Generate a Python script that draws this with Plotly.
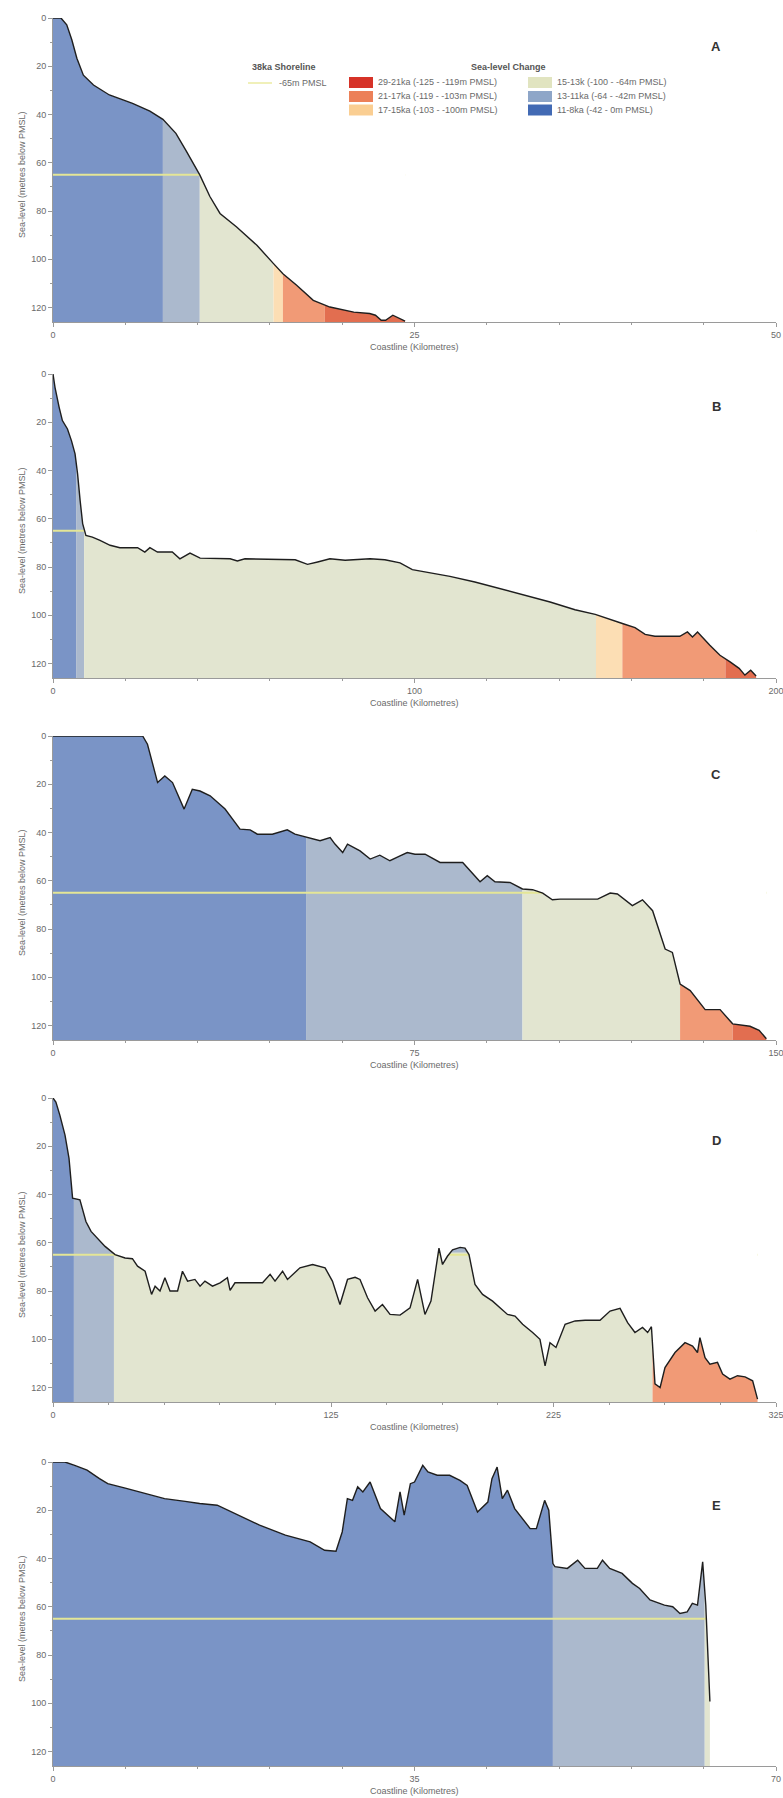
import numpy as np
import plotly.graph_objects as go

# ---------------- data ----------------
# Panel A
a_km = [0, 0.55, 0.95, 1.3, 1.65, 2.1, 2.8, 3.9, 5.5, 6.7, 7.6, 8.5, 9.2, 10.15, 10.85, 11.55,
        12.7, 14.1, 15.25, 15.9, 16.85, 18.0, 19.15, 20.8, 21.9, 22.3, 22.7, 23.0, 23.5, 24.0, 24.35]
a_depth = [0, 0, 2.8, 9, 16.7, 23.7, 27.8, 31.9, 35.4, 38.6, 42, 47.8, 55, 65, 74, 81,
           86.6, 94.2, 101.8, 106, 110.8, 117, 119.8, 121.9, 122.5, 123.2, 125.3, 125.3, 123.2, 124.6, 125.6]
a_band_edges = [0, 7.6, 10.15, 15.25, 15.9, 18.8, 24.35]
a_band_ages = ["11-8", "13-11", "15-13", "17-15", "21-17", "29-21"]

# Panel B
b_km = [0, 0.55, 1.7, 2.6, 4.0, 5.1, 6.1, 6.8, 7.5, 8.2, 9.1, 10.9, 13, 15.8, 18.5, 23.4, 25.4, 26.8,
        28.9, 33, 35.1, 37.9, 40.7, 49, 51, 53.1, 67, 70.4, 73.2, 76.6, 80.8, 87.7, 91.8, 96, 99.4,
        103, 109.8, 116.7, 123.7, 130.6, 137.5, 144.4, 150, 157.5, 161, 163.8, 166.5, 173.4, 175.5,
        176.9, 178.3, 181.7, 184.5, 187.3, 189.8, 191.4, 193, 194.5]
b_depth = [0, 5.5, 13.8, 19.3, 22.8, 27.6, 33.1, 41.4, 52.4, 62, 66.9, 67.6, 69, 71, 72, 72, 73.8, 72,
           73.8, 73.8, 76.6, 74.2, 76.3, 76.6, 77.5, 76.6, 77, 78.9, 77.9, 76.6, 77.2, 76.6, 77, 78.3, 81.1,
           82, 83.9, 86.2, 89, 91.7, 94.5, 97.7, 99.6, 103.4, 105.1, 107.9, 108.7, 108.7, 106.9,
           109, 106.9, 112.4, 116.6, 119.3, 122, 124.8, 122.8, 125.2]
b_band_edges = [0, 6.4, 8.6, 150.2, 157.5, 186, 194.5]
b_band_ages = ["11-8", "13-11", "15-13", "17-15", "21-17", "29-21"]

# Panel C
c_km = [0, 18.6, 19.6, 20.6, 21.7, 23.2, 24.8, 27.2, 28.9, 30.5, 32.6, 35.7, 38.8, 40.9, 42.4, 45.5,
        48.6, 50.2, 52.8, 55.4, 57.5, 58.5, 60.1, 61.1, 63.7, 65.8, 67.8, 69.9, 72, 73.5, 75.1, 77.2,
        80.3, 85, 88.6, 90.1, 91.7, 94.8, 97.4, 99.5, 101.6, 103.6, 105.2, 113, 115.6, 117.1, 120.2,
        122.3, 124.4, 127, 128.5, 130.1, 132.2, 135.3, 138.4, 141, 144.6, 146.5, 148]
c_depth = [0, 0, 3.4, 11, 19.3, 16.6, 19.3, 30.3, 22.1, 22.8, 24.8, 30.3, 38.6, 38.9, 40.7, 40.7,
           38.9, 40.7, 42.1, 43.4, 42.1, 44.8, 48.3, 44.8, 47.6, 51, 49.4, 51.7, 49.7, 48.3, 49, 49,
           52.4, 52.4, 60.4, 57.9, 60.4, 60.7, 63.4, 63.7, 65.1, 67.9, 67.6, 67.6, 65.1, 65.5, 70.3,
           67.9, 72.4, 88.3, 89.7, 102.8, 105.5, 113.4, 113.4, 119.3, 120.3, 122, 125.5]
c_band_edges = [0, 52.5, 97.4, 130.1, 141, 148]
c_band_ages = ["11-8", "13-11", "15-13", "21-17", "29-21"]

# Panel D
d_km = [0, 1.3, 3.1, 5.4, 7.2, 8.8, 12.1, 14.8, 17.1, 20, 23.4, 27.9, 32.4, 35.7, 38, 41.4, 44.3,
        45.9, 48.1, 50.3, 52.6, 56, 58.2, 60.5, 63.8, 66.1, 68.3, 71.7, 75.1, 78.4, 79.6, 81.8, 86.3,
        94.2, 97.6, 99.8, 103.2, 105.4, 111, 116.7, 122.3, 125.6, 129, 132.4, 135.8, 138, 141.4,
        144.8, 148.1, 151.5, 156, 160.5, 163.9, 167.2, 169.9, 173.5, 175.1, 177.3, 179.6, 183,
        185.2, 187, 189.7, 193.1, 197.6, 201, 204.3, 207.7, 211.1, 215.6, 218.9, 221.2, 223.4,
        226.1, 230.2, 234.7, 239.2, 245.9, 250.4, 254.9, 258.3, 261.6, 265, 267.3, 269, 270.6,
        272.9, 275.1, 279.6, 284.1, 287.5, 289.7, 290.8, 293.1, 295.3, 298.7, 301, 304.3, 307.7,
        311.1, 314.5, 316.7]
d_depth = [0, 1.7, 7.2, 15.4, 25, 41.5, 42.2, 51.2, 55.3, 58, 61.5, 64.9, 66.3, 66.6, 69.7, 71.8, 81.4,
           78, 80, 74.5, 80, 80, 71.8, 75.9, 75.2, 78, 75.9, 78, 76.6, 74.5, 79.7, 76.6, 76.6,
           76.6, 73.1, 75.9, 71.8, 75.2, 70.4, 69, 70.4, 75.9, 85.6, 75.2, 74.3, 75.2, 82.8,
           88.3, 85.6, 89.7, 90, 87, 75.2, 89.7, 84.2, 62.2, 69, 65.6, 62.9, 61.9,
           62.2, 64.9, 77.3, 81.4, 84.2, 86.9, 89.7, 90.4, 93.8, 97.2, 100, 111, 101.4,
           103.4, 93.8, 92.4, 92.1, 92.1, 88.3, 87.2, 93.1, 97.2, 95.1, 97.2, 94.8, 118.5,
           120, 111.7, 105.5, 101.4, 102.8, 105.5, 99.3, 107.6, 110.3, 109.6, 114.4, 116.5, 115.1,
           115.6, 117.2, 124.8]
d_band_edges = [0, 9.4, 27.4, 269.5, 316.7]
d_band_ages = ["11-8", "13-11", "15-13", "21-17"]
d_patch_range = [173.0, 187.5]   # small exposed crest reaching above the -64m level
d_patch_age = "13-11"
d_patch_floor = 64

# Panel E
e_km = [0, 1.16, 2.1, 3.3, 4.5, 5.3, 7, 8.9, 10.8, 12.8, 14.2, 15.9, 17.6, 20, 22.5, 24.9, 26.3,
        27.4, 28, 28.5, 29, 29.5, 30, 30.7, 31.7, 33.1, 33.6, 34, 34.6, 35, 35.8, 36.3, 37.2, 38.4,
        39.4, 40.1, 41.1, 42.1, 42.5, 43, 43.5, 44, 44.7, 45.2, 46.2, 46.8, 47.6, 48, 48.4, 48.6,
        49.8, 50.8, 51.5, 52.7, 53.2, 53.9, 55.1, 56.1, 56.8, 57.8, 59.2, 60, 60.7, 61.4, 61.9,
        62.4, 62.9, 63.2, 63.6]
e_depth = [0, 0, 1.4, 3.4, 6.9, 9, 10.8, 13.1, 15.2, 16.3, 17.2, 17.9, 21.4, 26.2, 30.3, 33.1, 36.6,
           37, 29, 15.2, 15.9, 10.3, 12.4, 8.3, 19.3, 24.8, 12.4, 22, 9, 8.3, 1.4, 4.1, 5.5, 5.5,
           7.6, 9.7, 20.7, 16.6, 6.9, 2.1, 15.2, 11.7, 19.3, 22.1, 27.6, 27.6, 15.9, 20, 42.1, 43.4,
           44.1, 40.7, 44.1, 44.1, 40.7, 44.1, 46.2, 50.3, 52.4, 57.2, 59.3, 60, 62.8, 62.1, 58.6,
           59.3, 41.4, 59.3, 99.3]
e_band_edges = [0, 48.4, 63.1, 63.6]
e_band_ages = ["11-8", "13-11", "15-13"]

shoreline_depth = 65          # 38ka shoreline, -65m PMSL
depth_axis_max = 126
depth_ticks = [0, 20, 40, 60, 80, 100, 120]

panel_letters = ["A", "B", "C", "D", "E"]
panel_xmax = [50, 200, 150, 325, 70]
panel_xticks = [[0, 25, 50], [0, 100, 200], [0, 75, 150], [0, 125, 225, 325], [0, 35, 70]]
panel_xminor = [5, 20, 15, 25, 7]

age_keys = ["29-21", "21-17", "17-15", "15-13", "13-11", "11-8"]
age_labels = ["29-21ka (-125 - -119m PMSL)", "21-17ka (-119 - -103m PMSL)", "17-15ka (-103 - -100m PMSL)",
              "15-13k (-100 - -64m PMSL)", "13-11ka (-64 - -42m PMSL)", "11-8ka (-42 - 0m PMSL)"]

# ---------------- styles ----------------
fill_colors = {
    "29-21": "rgb(226,110,80)",
    "21-17": "rgb(241,154,118)",
    "17-15": "rgb(252,222,180)",
    "15-13": "rgb(226,229,208)",
    "13-11": "rgb(171,185,205)",
    "11-8": "rgb(122,148,198)",
}
swatch_colors = {
    "29-21": "rgb(214,50,40)",
    "21-17": "rgb(236,128,88)",
    "17-15": "rgb(250,206,146)",
    "15-13": "rgb(225,228,192)",
    "13-11": "rgb(142,166,200)",
    "11-8": "rgb(66,106,180)",
}
shore_color = "rgb(228,230,150)"
curve_color = "#1e1e1e"
axis_color = "#9a9a9a"
text_color = "#6a6a6a"
FONT = "Liberation Sans, Arial, sans-serif"

W, H = 783, 1798
L, R = 53, 7
PW = W - L - R
tops = [18, 374, 736, 1098, 1462]
letter_y = [46, 406, 774, 1140, 1505]
PH = 304


def fx(px):
    return (px - L) / PW


def fy(py):
    return 1 - py / H


panels = [
    (a_km, a_depth, a_band_edges, a_band_ages),
    (b_km, b_depth, b_band_edges, b_band_ages),
    (c_km, c_depth, c_band_edges, c_band_ages),
    (d_km, d_depth, d_band_edges, d_band_ages),
    (e_km, e_depth, e_band_edges, e_band_ages),
]

fig = go.Figure()
annotations = []
shapes = []

for i, (xs, ds, edges, ages) in enumerate(panels):
    n = "" if i == 0 else str(i + 1)
    xa, ya = "x" + n, "y" + n
    xs = np.asarray(xs, float)
    ds = np.asarray(ds, float)

    # coloured sea-level bands
    for k, age in enumerate(ages):
        x0, x1 = edges[k], edges[k + 1]
        inner = xs[(xs > x0) & (xs < x1)]
        bx = np.concatenate([[x0], inner, [x1]])
        bd = np.interp(bx, xs, ds)
        px = np.concatenate([[x0], bx, [x1]])
        pd_ = np.concatenate([[depth_axis_max], bd, [depth_axis_max]])
        fig.add_trace(go.Scatter(x=px, y=pd_, xaxis=xa, yaxis=ya, mode="lines", fill="toself",
                                 fillcolor=fill_colors[age], line=dict(width=0), hoverinfo="skip"))
    if i == 3:
        x0, x1 = d_patch_range
        inner = xs[(xs > x0) & (xs < x1)]
        bx = np.concatenate([[x0], inner, [x1]])
        bd = np.minimum(np.interp(bx, xs, ds), d_patch_floor)
        px = np.concatenate([bx, bx[::-1]])
        pd_ = np.concatenate([bd, np.full(len(bx), d_patch_floor)])
        fig.add_trace(go.Scatter(x=px, y=pd_, xaxis=xa, yaxis=ya, mode="lines", fill="toself",
                                 fillcolor=fill_colors[d_patch_age], line=dict(width=0), hoverinfo="skip"))

    # 38ka shoreline
    fig.add_trace(go.Scatter(x=[0, xs[-1]], y=[shoreline_depth, shoreline_depth], xaxis=xa, yaxis=ya,
                             mode="lines", line=dict(color=shore_color, width=2), hoverinfo="skip"))
    # white mask above the profile (open water)
    mx = np.concatenate([[0], xs, [xs[-1]]])
    md = np.concatenate([[0], ds, [0]])
    fig.add_trace(go.Scatter(x=mx, y=md, xaxis=xa, yaxis=ya, mode="lines", fill="toself",
                             fillcolor="white", line=dict(width=0), hoverinfo="skip"))
    # profile
    fig.add_trace(go.Scatter(x=xs, y=ds, xaxis=xa, yaxis=ya, mode="lines",
                             line=dict(color=curve_color, width=1.4), hoverinfo="skip"))

    top = tops[i]
    bot = top + PH
    axis_common = dict(showline=True, linecolor=axis_color, linewidth=1, ticks="outside",
                       tickcolor=axis_color, ticklen=4, showgrid=False, zeroline=False,
                       tickfont=dict(family=FONT, size=9, color=text_color), automargin=False,
                       fixedrange=True, ticklabeloverflow="allow")
    fig.layout["xaxis" + n] = dict(
        domain=[0, 1], anchor=ya, range=[0, panel_xmax[i]], tickmode="array",
        tickvals=panel_xticks[i], ticktext=[str(v) for v in panel_xticks[i]],
        minor=dict(ticks="outside", ticklen=2, tickcolor=axis_color, dtick=panel_xminor[i], tick0=0),
        **axis_common)
    fig.layout["yaxis" + n] = dict(
        domain=[fy(bot), fy(top)], anchor=xa, range=[depth_axis_max, 0], tickmode="array",
        tickvals=depth_ticks, ticktext=[str(v) for v in depth_ticks],
        minor=dict(ticks="outside", ticklen=2, tickcolor=axis_color, dtick=10, tick0=0),
        **axis_common)

    annotations.append(dict(text="Coastline (Kilometres)", xref="paper", yref="paper", x=0.5,
                            y=fy(bot + 25), showarrow=False, xanchor="center", yanchor="middle",
                            font=dict(family=FONT, size=9, color=text_color)))
    annotations.append(dict(text="Sea-level (metres below PMSL)", xref="paper", yref="paper",
                            x=fx(22), y=fy(top + PH / 2 + 5), showarrow=False, textangle=-90,
                            xanchor="center", yanchor="middle",
                            font=dict(family=FONT, size=9, color=text_color)))
    annotations.append(dict(text="<b>%s</b>" % panel_letters[i], xref="paper", yref="paper",
                            x=fx(716), y=fy(letter_y[i]), showarrow=False, xanchor="center",
                            yanchor="middle", font=dict(family=FONT, size=13, color="#333333")))

# ---------------- legend ----------------
annotations.append(dict(text="<b>38ka Shoreline</b>", xref="paper", yref="paper", x=fx(284), y=fy(67),
                        showarrow=False, xanchor="center", yanchor="middle",
                        font=dict(family=FONT, size=9, color="#555555")))
shapes.append(dict(type="line", xref="paper", yref="paper", x0=fx(248), x1=fx(272), y0=fy(83), y1=fy(83),
                   line=dict(color="rgb(240,240,185)", width=2)))
annotations.append(dict(text="-65m PMSL", xref="paper", yref="paper", x=fx(277), y=fy(83),
                        showarrow=False, xanchor="left", yanchor="middle",
                        font=dict(family=FONT, size=9, color=text_color)))
annotations.append(dict(text="<b>Sea-level Change</b>", xref="paper", yref="paper", x=fx(508), y=fy(67),
                        showarrow=False, xanchor="center", yanchor="middle",
                        font=dict(family=FONT, size=9, color="#555555")))
rows_y = [82.5, 96.5, 110]
for j, (key, lab) in enumerate(zip(age_keys, age_labels)):
    col = j // 3
    row = j % 3
    sx = 349 if col == 0 else 528
    cy = rows_y[row]
    shapes.append(dict(type="rect", xref="paper", yref="paper", x0=fx(sx), x1=fx(sx + 24),
                       y0=fy(cy + 5.5), y1=fy(cy - 5.5), fillcolor=swatch_colors[key], line=dict(width=0)))
    annotations.append(dict(text=lab, xref="paper", yref="paper", x=fx(sx + 27), y=fy(cy),
                            showarrow=False, xanchor="left", yanchor="middle",
                            font=dict(family=FONT, size=9, color=text_color)))

fig.update_layout(width=W, height=H, margin=dict(l=L, r=R, t=0, b=0, pad=0),
                  paper_bgcolor="white", plot_bgcolor="white", showlegend=False,
                  annotations=annotations, shapes=shapes, font=dict(family=FONT))

# remove the page's default body margin so the figure fills the window exactly
fig.write_html("out.html", config={"displayModeBar": False},
               post_script="document.body.style.margin='0';document.body.style.overflow='hidden';")
